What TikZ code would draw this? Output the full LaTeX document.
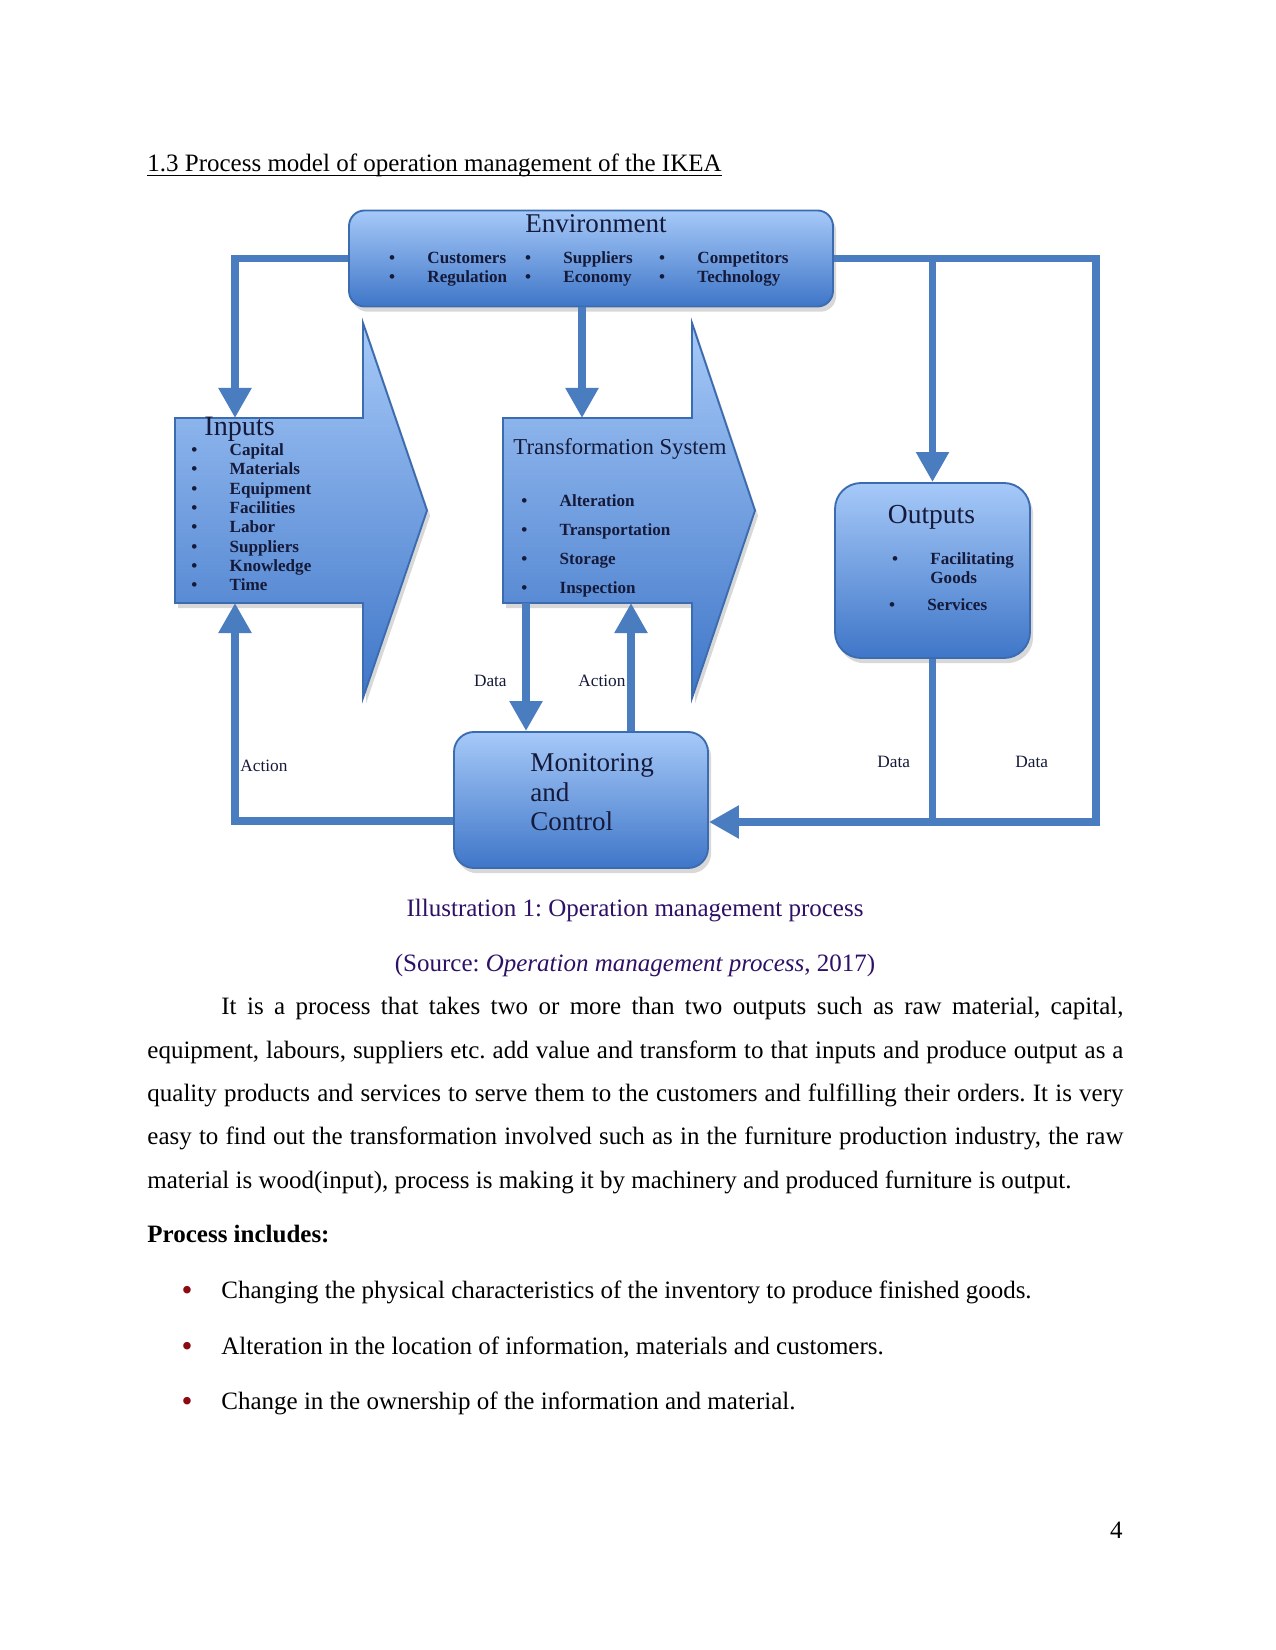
\documentclass[tikz,border=0pt]{standalone}
\usepackage{fontspec}
\setmainfont{Liberation Serif}
\usepackage{xcolor}
\usetikzlibrary{arrows.meta, shadows}
\definecolor{flowblue}{HTML}{4A7DC0}
\definecolor{edgeblue}{HTML}{3C6CB0}
\definecolor{boxtop}{HTML}{A6C9F8}
\definecolor{boxbot}{HTML}{3F76C8}
\definecolor{ink}{HTML}{151A3A}
\definecolor{capviolet}{HTML}{2E1066}
\definecolor{bulletred}{HTML}{8C0A12}

% bullet hanging left of an entry
\newcommand{\itm}[1]{\llap{\textbullet\hspace{15.5pt}}#1}

\tikzset{
  % rounded process boxes
  pbox/.style={rectangle, draw=edgeblue, line width=0.9pt, inner sep=0pt,
               top color=boxtop, bottom color=boxbot,
               drop shadow={opacity=0.3, shadow xshift=1.5pt, shadow yshift=-2.5pt}},
  % block arrows (Inputs, Transformation System), drawn as paths
  barr/.style={draw=edgeblue, line width=0.9pt,
               top color=boxtop, bottom color=boxbot,
               drop shadow={opacity=0.3, shadow xshift=1.5pt, shadow yshift=-2.5pt}},
  % connectors
  conn/.style={draw=flowblue, line width=3.6pt,
               -{Triangle[width=15pt,length=14.4pt]}},
  link/.style={draw=flowblue, line width=3.6pt},
  % texts
  ttl/.style={font=\fontsize{13}{15}\selectfont, text=ink, inner sep=0pt, anchor=base west},
  entry/.style={font=\fontsize{8.2}{9.4}\selectfont\bfseries, text=ink, inner sep=0pt,
                anchor=base west},
  lbl/.style={font=\fontsize{8.3}{10}\selectfont, text=ink, inner sep=0pt, anchor=base west},
  body/.style={font=\fontsize{12}{14}\selectfont\frenchspacing, inner sep=0pt, anchor=base west},
  dot/.style={font=\fontsize{15}{15}\selectfont, text=bulletred, inner sep=0pt, anchor=center},
}

\begin{document}
\begin{tikzpicture}[x=0.48pt, y=-0.48pt]

% ── Page ─────────────────────────────────────────────────────────────────────
\path[fill=white, use as bounding box] (0,0) rectangle (1275,1650);

\node[body] (heading) at (147,172)
  {1.3 Process model of operation management of the IKEA\ };
\draw[line width=0.55pt] ([yshift=-1.8pt]heading.base west) -- ([yshift=-1.8pt]heading.base east);

% ── Environment ──────────────────────────────────────────────────────────────
\node[pbox, rounded corners=7.5pt, minimum width=232.3pt, minimum height=46.1pt]
  (env) at (591,258.5) {};
\node[ttl, anchor=base] (envT) at (596,233) {Environment};
\node[entry] (envC) at (427,263.3) {\itm{Customers}};
\node[entry] (envR) at (427,282.7) {\itm{Regulation}};
\node[entry] (envS) at (563,263.3) {\itm{Suppliers}};
\node[entry] (envE) at (563,282.7) {\itm{Economy}};
\node[entry] (envK) at (697,263.3) {\itm{Competitors}};
\node[entry] (envG) at (697,282.7) {\itm{Technology}};

% ── Inputs ───────────────────────────────────────────────────────────────────
\path[barr] (175,418) -- ++(188,0) -- ++(0,-95) -- ++(64,187.5)
  -- ++(-64,187.5) -- ++(0,-95) -- ++(-188,0) -- cycle;
\node[ttl, font=\fontsize{13.5}{15}\selectfont] (inT) at (204,436) {Inputs};
\foreach \w [count=\i] in {Capital,Materials,Equipment,Facilities,Labor,Suppliers,Knowledge,Time}
  \node[entry] (in\i) at (229.3,436+19.35*\i) {\itm{\w}};

% ── Transformation system ────────────────────────────────────────────────────
\path[barr] (503,418) -- ++(189,0) -- ++(0,-95) -- ++(63,187.5)
  -- ++(-63,187.5) -- ++(0,-95) -- ++(-189,0) -- cycle;
\node[ttl, font=\fontsize{10.9}{13}\selectfont] (tfT) at (513,454) {Transformation System};
\foreach \w [count=\i] in {Alteration,Transportation,Storage,Inspection}
  \node[entry] (tf\i) at (559.3,477+29*\i) {\itm{\w}};

% ── Outputs ──────────────────────────────────────────────────────────────────
\node[pbox, rounded corners=12.5pt, minimum width=93.6pt, minimum height=84pt]
  (outputs) at (932.5,570.5) {};
\node[ttl, font=\fontsize{13.2}{15}\selectfont, anchor=base] (outT) at (931.5,523.3) {Outputs};
\node[entry] (out1) at (930,564) {\itm{Facilitating}};
\node[entry] (out1b) at (930,583.3) {Goods};
\node[entry] (out2) at (927,610.7) {\itm{Services}};

% ── Monitoring and control ───────────────────────────────────────────────────
\node[pbox, rounded corners=9.6pt, minimum width=121.9pt, minimum height=65.3pt]
  (mon) at (581,800) {};
\node[ttl] (monA) at (530,771.7) {Monitoring};
\node[ttl] (monB) at (530,801.7) {and};
\node[ttl] (monC) at (530,830.7) {Control};

% ── Connectors ───────────────────────────────────────────────────────────────
\coordinate (inIn)     at (235,418);
\coordinate (inBack)   at (235,603);
\coordinate (tfIn)     at (582,418);
\coordinate (tfOut)    at (526,603);
\coordinate (tfBack)   at (631,603);
\coordinate (cornerNE) at (1096,258.5);
\coordinate (cornerSE) at (1096,822);
\coordinate (cornerSW) at (235,821);

\draw[conn] (env.west) -| (inIn);
\draw[conn] (tfIn |- env.south) -- (tfIn);
\draw[conn] (env.east) -- (cornerNE) -- (cornerSE) -- (mon.east |- cornerSE);
\draw[conn] (outputs.north |- env.east) -- (outputs.north);
\draw[link] (outputs.south) -- (outputs.south |- cornerSE);

\draw[conn] (tfOut) -- (tfOut |- mon.north);
\draw[conn] (tfBack |- mon.north) -- (tfBack);
\draw[conn] (mon.west |- cornerSW) -- (cornerSW) -- (inBack);

\node[lbl] (lData1) at (473.6,686.7) {Data};
\node[lbl] (lAct1)  at (578,686.7)   {Action};
\node[lbl] (lAct2)  at (240,771.7)   {Action};
\node[lbl] (lData2) at (877,767.3)   {Data};
\node[lbl] (lData3) at (1015,767.3)  {Data};

% ── Captions ─────────────────────────────────────────────────────────────────
\node[body, anchor=base, text=capviolet] (cap1) at (635,916.5)
  {Illustration 1: Operation management process};
\node[body, anchor=base, text=capviolet] (cap2) at (635,971)
  {(Source: \textit{Operation management process}, 2017)};

% ── Body text ────────────────────────────────────────────────────────────────
\node[body] (par1) at (221,1014.5) {\makebox[433pt][s]{It is a process that takes two or more than two outputs such as raw material, capital,}};
\node[body] (par2) at (147,1058)   {\makebox[468.5pt][s]{equipment, labours, suppliers etc. add value and transform to that inputs and produce output as a}};
\node[body] (par3) at (147,1101.5) {\makebox[468.5pt][s]{quality products and services to serve them to the customers and fulfilling their orders. It is very}};
\node[body] (par4) at (147,1144.5) {\makebox[468.5pt][s]{easy to find out the transformation involved such as in the furniture production industry, the raw}};
\node[body] (par5) at (147,1188)   {material is wood(input), process is making it by machinery and produced furniture is output.};

\node[body] (incl) at (147,1242.3) {\bfseries Process includes:};
\node[body] (pt1) at (221,1298)   {Changing the physical characteristics of the inventory to produce finished goods.};
\node[body] (pt2) at (221,1354)   {Alteration in the location of information, materials and customers.};
\node[body] (pt3) at (221,1409.3) {Change in the ownership of the information and material.};
\node[dot] (b1) at (187,1293)   {\textbullet};
\node[dot] (b2) at (187,1349)   {\textbullet};
\node[dot] (b3) at (187,1404.3) {\textbullet};

\node[body, anchor=base east] (pageno) at (1123,1538.5) {4};

\end{tikzpicture}
\end{document}
